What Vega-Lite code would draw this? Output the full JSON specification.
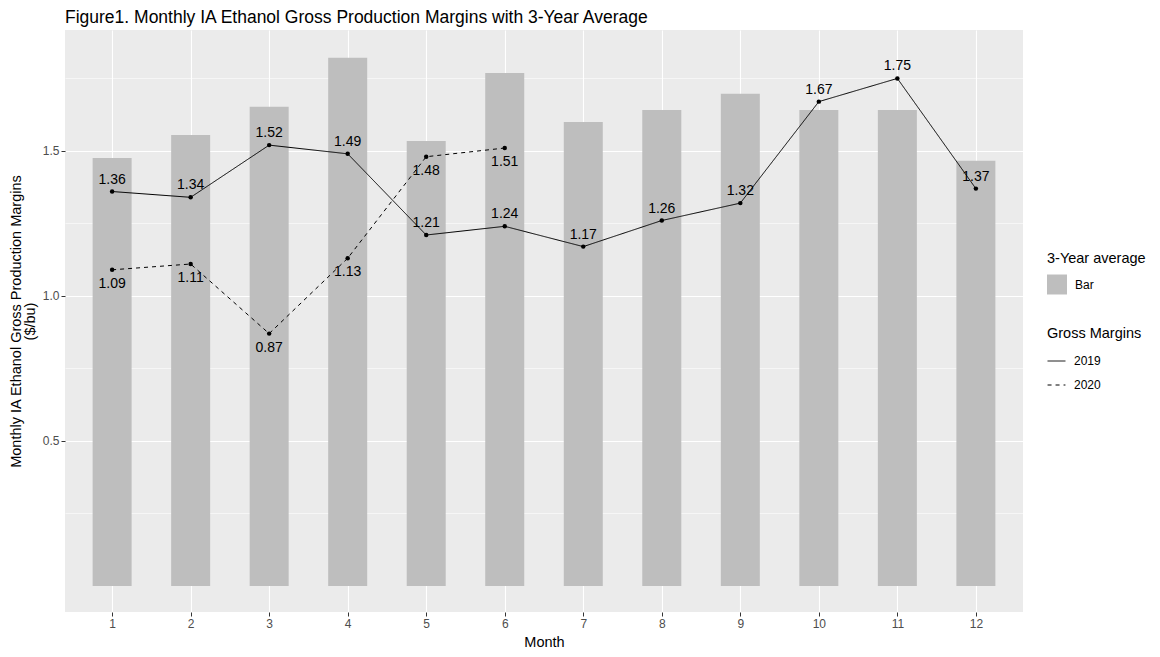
{
  "$schema": "https://vega.github.io/schema/vega-lite/v6.json",
  "width": 958,
  "height": 582,
  "autosize": {"type": "none"},
  "padding": {"left": 65, "top": 30, "right": 137, "bottom": 45},
  "background": "white",
  "config": {
    "font": "Liberation Sans",
    "view": {"fill": "#EBEBEB", "stroke": null},
    "axis": {"domain": false, "gridColor": "white", "tickColor": "#333333", "tickSize": 4, "labelColor": "#4D4D4D", "labelFontSize": 12, "titleFontSize": 14.5, "titleFontWeight": "normal", "titleColor": "black", "labelPadding": 2},
    "legend": {"titleFontSize": 14.5, "titleFontWeight": "normal", "labelFontSize": 12, "titleColor": "black", "labelColor": "black"}
  },
  "title": {"text": "Figure1. Monthly IA Ethanol Gross Production Margins with 3-Year Average", "anchor": "start", "frame": "group", "fontSize": 17.5, "fontWeight": "normal", "color": "black", "offset": 4, "font": "Liberation Sans"},
  "datasets": {
    "avg": [
      {"Month": 1, "Avg": 1.476},
      {"Month": 2, "Avg": 1.555},
      {"Month": 3, "Avg": 1.652},
      {"Month": 4, "Avg": 1.821},
      {"Month": 5, "Avg": 1.534},
      {"Month": 6, "Avg": 1.769},
      {"Month": 7, "Avg": 1.600},
      {"Month": 8, "Avg": 1.641},
      {"Month": 9, "Avg": 1.697},
      {"Month": 10, "Avg": 1.641},
      {"Month": 11, "Avg": 1.641},
      {"Month": 12, "Avg": 1.466}
    ],
    "margins": [
      {"Month": 1, "Year": "2019", "Margin": 1.36},
      {"Month": 2, "Year": "2019", "Margin": 1.34},
      {"Month": 3, "Year": "2019", "Margin": 1.52},
      {"Month": 4, "Year": "2019", "Margin": 1.49},
      {"Month": 5, "Year": "2019", "Margin": 1.21},
      {"Month": 6, "Year": "2019", "Margin": 1.24},
      {"Month": 7, "Year": "2019", "Margin": 1.17},
      {"Month": 8, "Year": "2019", "Margin": 1.26},
      {"Month": 9, "Year": "2019", "Margin": 1.32},
      {"Month": 10, "Year": "2019", "Margin": 1.67},
      {"Month": 11, "Year": "2019", "Margin": 1.75},
      {"Month": 12, "Year": "2019", "Margin": 1.37},
      {"Month": 1, "Year": "2020", "Margin": 1.09},
      {"Month": 2, "Year": "2020", "Margin": 1.11},
      {"Month": 3, "Year": "2020", "Margin": 0.87},
      {"Month": 4, "Year": "2020", "Margin": 1.13},
      {"Month": 5, "Year": "2020", "Margin": 1.48},
      {"Month": 6, "Year": "2020", "Margin": 1.51}
    ]
  },
  "layer": [
    {
      "data": {"name": "avg"},
      "mark": {"type": "bar", "width": 39},
      "encoding": {
        "x": {"field": "Month", "type": "quantitative", "scale": {"domain": [0.4, 12.6], "nice": false, "zero": false, "padding": 0},
          "axis": {"values": [1,2,3,4,5,6,7,8,9,10,11,12], "title": "Month", "titleY": 23, "gridWidth": 1.1, "format": "d"}},
        "y": {"field": "Avg", "type": "quantitative", "scale": {"domain": [-0.09, 1.917], "nice": false, "zero": false, "padding": 0},
          "axis": {"values": [0.25, 0.5, 0.75, 1.0, 1.25, 1.5, 1.75],
            "labelExpr": "datum.value % 0.5 === 0 ? format(datum.value, '.1f') : ''",
            "gridWidth": {"condition": {"test": "datum.value % 0.5 === 0", "value": 1.1}, "value": 0.55},
            "tickOpacity": {"condition": {"test": "datum.value % 0.5 === 0", "value": 1}, "value": 0},
            "title": ["Monthly IA Ethanol Gross Production Margins", "($/bu)"], "titlePadding": 5, "titleLineHeight": 14}},
        "color": {"datum": "Bar", "type": "nominal", "scale": {"domain": ["Bar"], "range": ["#BEBEBE"]},
          "legend": {"title": "3-Year average", "orient": "none", "legendX": 982, "legendY": 222, "symbolType": "square", "symbolSize": 400, "symbolStrokeWidth": 0, "titlePadding": 8, "labelOffset": 8}}
      }
    },
    {
      "data": {"name": "margins"},
      "mark": {"type": "line", "color": "black", "strokeWidth": 1},
      "encoding": {
        "x": {"field": "Month", "type": "quantitative"},
        "y": {"field": "Margin", "type": "quantitative"},
        "strokeDash": {"field": "Year", "type": "nominal", "scale": {"domain": ["2019", "2020"], "range": [[1, 0], [4, 4]]},
          "legend": {"title": "Gross Margins", "orient": "none", "legendX": 982, "legendY": 297, "symbolType": "stroke", "symbolStrokeColor": "black", "symbolStrokeWidth": 1, "symbolSize": 320, "titlePadding": 10, "rowPadding": 8, "labelOffset": 8}}
      }
    },
    {
      "data": {"name": "margins"},
      "mark": {"type": "point", "filled": true, "color": "black", "size": 20, "opacity": 1},
      "encoding": {
        "x": {"field": "Month", "type": "quantitative"},
        "y": {"field": "Margin", "type": "quantitative"}
      }
    },
    {
      "data": {"name": "margins"},
      "transform": [{"filter": "datum.Year === '2019'"}],
      "mark": {"type": "text", "fontSize": 14, "dy": -12, "color": "black", "font": "Liberation Sans"},
      "encoding": {
        "x": {"field": "Month", "type": "quantitative"},
        "y": {"field": "Margin", "type": "quantitative"},
        "text": {"field": "Margin", "type": "quantitative", "format": ".2f"}
      }
    },
    {
      "data": {"name": "margins"},
      "transform": [{"filter": "datum.Year === '2020'"}],
      "mark": {"type": "text", "fontSize": 14, "dy": 14, "color": "black", "font": "Liberation Sans"},
      "encoding": {
        "x": {"field": "Month", "type": "quantitative"},
        "y": {"field": "Margin", "type": "quantitative"},
        "text": {"field": "Margin", "type": "quantitative", "format": ".2f"}
      }
    }
  ]
}
